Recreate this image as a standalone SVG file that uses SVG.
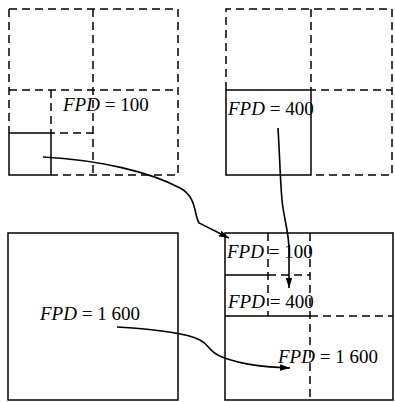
<svg xmlns="http://www.w3.org/2000/svg" width="395" height="402" viewBox="0 0 395 402">
<style>
.s{fill:none;stroke:#000;stroke-width:1.5}
.d{fill:none;stroke:#000;stroke-width:1.5;stroke-dasharray:8 5}
.c{fill:none;stroke:#000;stroke-width:1.6}
text{font-family:"Liberation Serif","Times New Roman",serif;font-size:19px;fill:#000}
.i{font-style:italic}
</style>
<defs>
<marker id="ah" markerUnits="userSpaceOnUse" markerWidth="12" markerHeight="8" refX="10" refY="4" orient="auto">
<path d="M0,0.8 L10,4 L0,7.2 z" fill="#000"/>
</marker>
</defs>
<g id="panel-fpd100">
<path class="d" d="M9,9 H178 V175 H51 M9,9 V133 M93,9 V175 M9,90 H178 M51,90 V133 H93"/>
<rect class="s" x="9" y="133" width="42" height="42"/>
<text x="63" y="111"><tspan class="i">FPD</tspan> = 100</text>
</g>
<g id="panel-fpd400">
<path class="d" d="M226,90 V9 H392 V175 H311 M311,9 V90 H392"/>
<rect class="s" x="226" y="90" width="85" height="85"/>
<text x="228" y="115"><tspan class="i">FPD</tspan> = 400</text>
</g>
<g id="panel-fpd1600">
<rect class="s" x="8" y="233" width="170" height="167"/>
<text x="40" y="320"><tspan class="i">FPD</tspan> = 1 600</text>
</g>
<g id="panel-combined">
<rect class="s" x="225" y="233" width="168" height="167"/>
<path class="s" d="M225,316 H310 M225,275 H268"/>
<path class="d" d="M310,316 H393 M310,233 V400 M268,233 V316 M268,275 H310"/>
<text x="227" y="258"><tspan class="i">FPD</tspan> = 100</text>
<text x="228" y="308"><tspan class="i">FPD</tspan> = 400</text>
<text x="278" y="363"><tspan class="i">FPD</tspan> = 1 600</text>
</g>
<g id="connectors">
<path class="c" marker-end="url(#ah)" d="M43,157 C100,160 150,172 180,188 C197,197 194,215 199,223 L229,238"/>
<path class="c" marker-end="url(#ah)" d="M278,128 C280,160 280,178 282,200 C284,220 289,232 289,250 L289,288"/>
<path class="c" marker-end="url(#ah)" d="M117,327 C150,329 185,332 200,340 C210,345 208,352 222,357 C245,366 270,367 290,368"/>
</g>
</svg>
